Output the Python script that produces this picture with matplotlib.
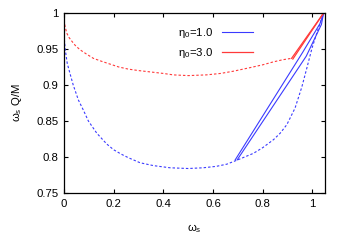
import numpy as np
import matplotlib
matplotlib.use('Agg')
import matplotlib.pyplot as plt
from matplotlib.ticker import FuncFormatter

plt.rcParams['font.family'] = ['Liberation Sans', 'DejaVu Sans']
plt.rcParams['mathtext.fontset'] = 'custom'
plt.rcParams['mathtext.rm'] = 'Liberation Sans'
plt.rcParams['mathtext.it'] = 'Liberation Sans'
plt.rcParams['font.size'] = 8.2

# eta0 = 1.0, dashed (full branch)
blue_x = [0.0, 0.0, 0.005, 0.013, 0.024, 0.037, 0.058, 0.078, 0.098, 0.132, 0.172,
          0.2, 0.23, 0.259, 0.306, 0.36, 0.427, 0.5, 0.56, 0.613, 0.655, 0.692,
          0.762, 0.8, 0.843, 0.87, 0.897, 0.93, 0.957, 0.977, 0.998, 1.024, 1.045]
blue_y = [0.988, 0.969, 0.949, 0.930, 0.916, 0.900, 0.879, 0.865, 0.850, 0.833, 0.818,
          0.810, 0.804, 0.799, 0.792, 0.788, 0.785, 0.784, 0.785, 0.787, 0.790, 0.795,
          0.805, 0.813, 0.824, 0.833, 0.845, 0.868, 0.897, 0.923, 0.951, 0.979, 1.0]
# eta0 = 1.0, solid branches
blue_s1_x = [0.689, 0.96, 1.03, 1.045]
blue_s1_y = [0.796, 0.945, 0.985, 1.0]
blue_s2_x = [0.697, 0.975, 1.036, 1.045]
blue_s2_y = [0.796, 0.940, 0.984, 1.0]

# eta0 = 3.0, dashed
red_x = [0.0, 0.004, 0.011, 0.02, 0.031, 0.045, 0.064, 0.09, 0.118, 0.15, 0.185,
         0.22, 0.259, 0.3, 0.35, 0.4, 0.44, 0.5, 0.573, 0.63, 0.68, 0.748, 0.8,
         0.842, 0.88, 0.916]
red_y = [0.99, 0.982, 0.972, 0.966, 0.961, 0.955, 0.949, 0.943, 0.937, 0.933, 0.929,
         0.925, 0.922, 0.920, 0.918, 0.916, 0.914, 0.913, 0.914, 0.916, 0.919, 0.924, 0.928,
         0.932, 0.935, 0.937]
# eta0 = 3.0, solid branches
red_s1_x = [0.916, 1.045]
red_s1_y = [0.937, 1.0]
red_s2_x = [0.921, 1.045]
red_s2_y = [0.936, 1.0]

blue = '#3a3aff'
red = '#ff3a3a'

fig = plt.figure(figsize=(3.46, 2.42), dpi=100)
ax = fig.add_axes([0.185, 0.2025, 0.754, 0.744])

dash = (0, (2.2, 1.8))
ax.plot(blue_x, blue_y, color=blue, lw=0.8, ls=dash)
ax.plot(red_x, red_y, color=red, lw=0.8, ls=dash)
ax.plot(blue_s1_x, blue_s1_y, color=blue, lw=0.8, label=r'$\eta_0$=1.0')
ax.plot(blue_s2_x, blue_s2_y, color=blue, lw=0.8)
ax.plot(red_s1_x, red_s1_y, color=red, lw=0.9)
ax.plot(red_s2_x, red_s2_y, color=red, lw=0.9, label=r'$\eta_0$=3.0')

ax.set_xlim(0, 1.05)
ax.set_ylim(0.75, 1.0)
ax.set_xticks([0, 0.2, 0.4, 0.6, 0.8, 1.0])
ax.set_yticks([0.75, 0.8, 0.85, 0.9, 0.95, 1.0])
fmt = FuncFormatter(lambda v, p: '%g' % v)
ax.xaxis.set_major_formatter(fmt)
ax.yaxis.set_major_formatter(fmt)
ax.tick_params(direction='in', top=True, right=True, length=3, width=0.8, pad=4)
for s in ax.spines.values():
    s.set_linewidth(0.9)

ax.set_xlabel(r'$\omega_s$', labelpad=10)
ax.set_ylabel(r'$\omega_s$ Q/M', labelpad=9)

ax.legend(loc='upper right', bbox_to_anchor=(0.742, 0.955), frameon=False,
          markerfirst=False, handlelength=2.7, handletextpad=0.8,
          labelspacing=0.55, borderaxespad=0)

fig.savefig('out.png', dpi=100)
